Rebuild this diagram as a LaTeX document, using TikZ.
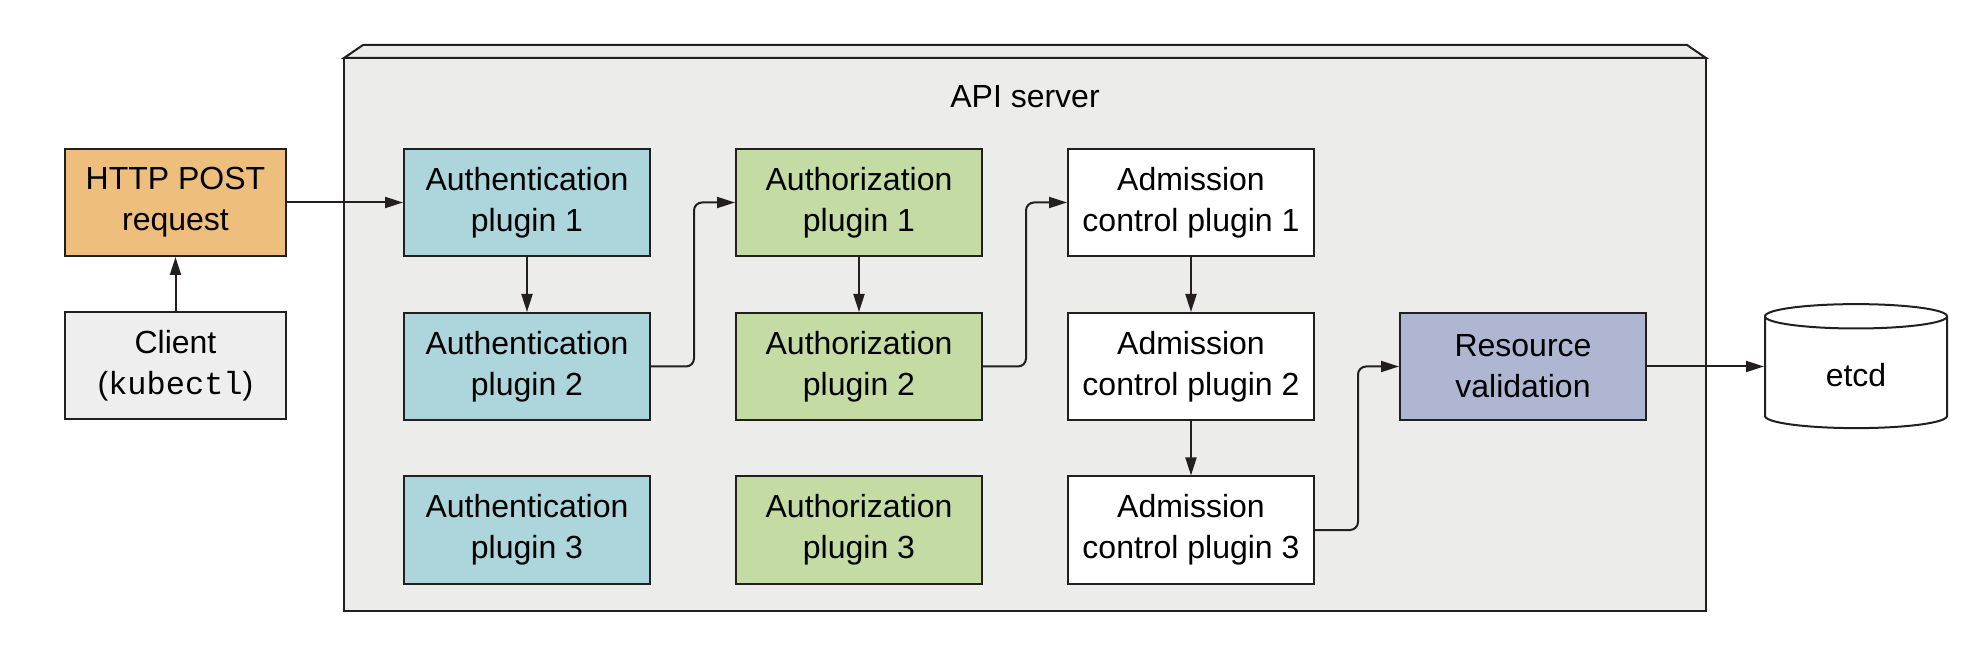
\documentclass[tikz,border=0pt]{standalone}
\usepackage{fontspec}
\setmainfont{Liberation Sans}
\setmonofont{Liberation Mono}
\usetikzlibrary{arrows.meta,shapes.geometric}
\definecolor{reqorange}{HTML}{EEBE7D}
\definecolor{clientgray}{HTML}{EEEEEE}
\definecolor{apigray}{HTML}{ECECEA}
\definecolor{authnblue}{HTML}{ACD5DC}
\definecolor{authzgreen}{HTML}{C4DBA3}
\definecolor{rvblue}{HTML}{AEB6D2}
\definecolor{linegray}{HTML}{231F20}
\begin{document}
\begin{tikzpicture}[x=0.5pt,y=-0.5pt,
  font=\fontsize{16}{20.5}\selectfont,
  box/.style={draw=linegray,line width=1pt,minimum width=123pt,minimum height=53.5pt,align=center,inner sep=0pt},
  flow/.style={draw=linegray,line width=1pt,-{Triangle[length=9pt,width=5.5pt]},rounded corners=4pt}]
\useasboundingbox (0,0) rectangle (1978,652);
\draw[fill=apigray,draw=linegray,line width=1pt] (344,58) -- (363,45) -- (1687,45) -- (1706,58) -- cycle;
\draw[fill=apigray,draw=linegray,line width=1pt] (344,58) rectangle (1706,611);
\node (api) at (1025,97) {API server};
\node[box,fill=reqorange,minimum width=110.5pt] (http) at (175.5,202.5) {HTTP POST\\request};
\node[box,fill=clientgray,minimum width=110.5pt] (client) at (175.5,366) {Client\\(\texttt{kubectl})};
\foreach \i/\y in {1/202.5,2/366.5,3/530} {
	\node[box,fill=authnblue] (authn\i) at (527,\y) {Authentication\\plugin \i};
	\node[box,fill=authzgreen] (authz\i) at (859,\y) {Authorization\\plugin \i};
	\node[box,fill=white] (adm\i) at (1191,\y) {Admission\\control plugin \i};
}
\node[box,fill=rvblue] (rv) at (1523,366.5) {Resource\\validation};
\node[draw=linegray,line width=1pt,fill=white,cylinder,shape border rotate=90,aspect=0.33,minimum width=91pt,minimum height=62pt] (etcd) at (1856,375) {etcd};
\draw[flow] (client) -- (http);
\draw[flow] (http) -- (authn1);
\draw[flow] (authn1) -- (authn2);
\draw[flow] (authz1) -- (authz2);
\draw[flow] (adm1) -- (adm2);
\draw[flow] (adm2) -- (adm3);
\draw[flow] (authn2.east) -- ++(43,0) |- (authz1.west);
\draw[flow] (authz2.east) -- ++(43,0) |- (adm1.west);
\draw[flow] (adm3.east) -- ++(43,0) |- (rv.west);
\draw[flow] (rv.east) -- (rv.east -| etcd.west);
\end{tikzpicture}
\end{document}
